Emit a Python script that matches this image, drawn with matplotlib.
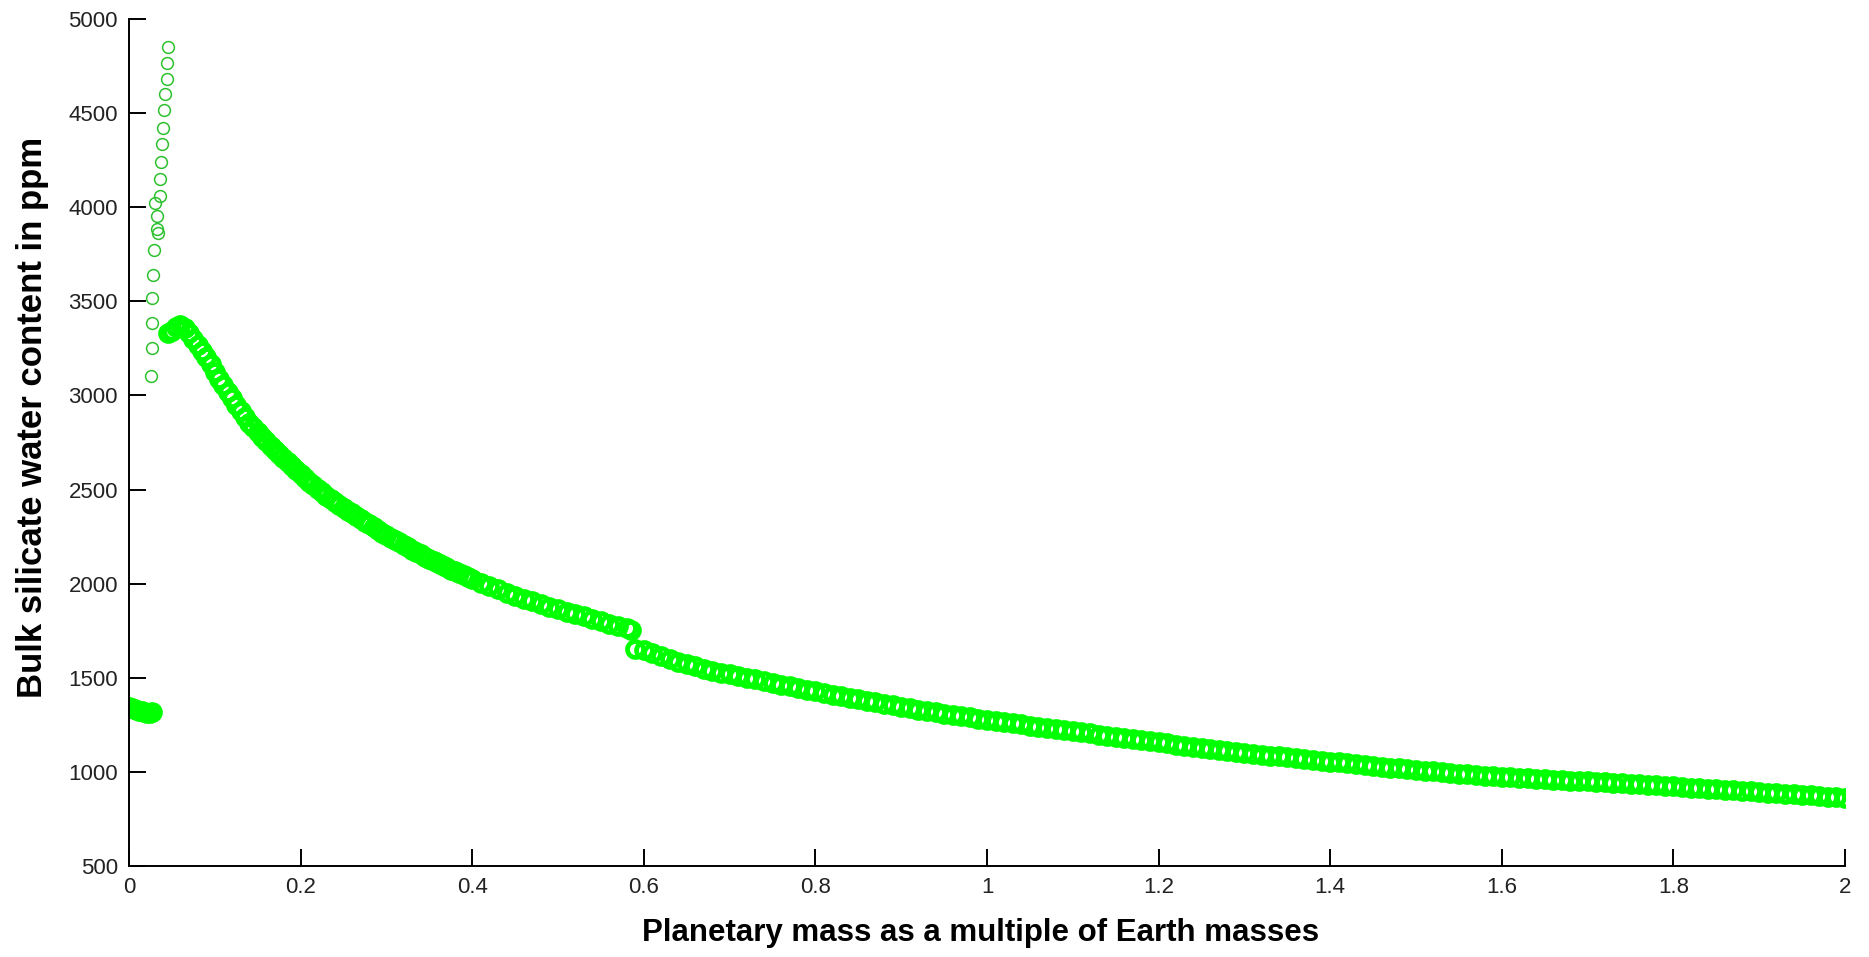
import matplotlib
matplotlib.use('Agg')
import matplotlib.pyplot as plt
import numpy as np

plt.rcParams['font.family'] = ['Liberation Sans', 'DejaVu Sans']

# small cluster at the very low masses
low_mass = [0.000, 0.003, 0.006, 0.009, 0.012, 0.015, 0.018, 0.021, 0.024, 0.027]
low_water = [1345, 1341, 1336, 1331, 1326, 1321, 1316, 1313, 1315, 1318]

# the isolated spike of open circles
spike_mass = [0.0256, 0.0272, 0.0272, 0.0272, 0.0283, 0.0291, 0.0303, 0.0323, 0.0342, 0.0323,
              0.0361, 0.0361, 0.0369, 0.0381, 0.0393, 0.0408, 0.0420, 0.0439, 0.0439, 0.0458]
spike_water = [3105, 3251, 3383, 3516, 3638, 3773, 4021, 3954, 3862, 3883,
               4060, 4148, 4239, 4334, 4422, 4517, 4600, 4680, 4765, 4853]

# main branch, before the step near 0.585
main1_mass = [0.045, 0.050, 0.055, 0.060, 0.065, 0.070, 0.075, 0.080, 0.085, 0.090,
              0.095, 0.100, 0.105, 0.110, 0.115, 0.120, 0.125, 0.130, 0.135, 0.140,
              0.145, 0.150, 0.155, 0.160, 0.165, 0.170, 0.175, 0.180, 0.185, 0.190,
              0.195, 0.200, 0.205, 0.210, 0.215, 0.220, 0.225, 0.230, 0.235, 0.240,
              0.245, 0.250, 0.255, 0.260, 0.265, 0.270, 0.275, 0.280, 0.285, 0.290,
              0.295, 0.300, 0.305, 0.310, 0.315, 0.320, 0.325, 0.330, 0.335, 0.340,
              0.345, 0.350, 0.355, 0.360, 0.365, 0.370, 0.375, 0.380, 0.385, 0.390,
              0.395, 0.40, 0.41, 0.42, 0.43, 0.44, 0.45, 0.46, 0.47, 0.48,
              0.49, 0.50, 0.51, 0.52, 0.53, 0.54, 0.55, 0.56, 0.57, 0.58, 0.585]
main1_water = [3330, 3342, 3366, 3372, 3356, 3330, 3300, 3268, 3237, 3205,
               3165, 3125, 3090, 3055, 3020, 2985, 2950, 2918, 2886, 2856,
               2830, 2805, 2780, 2756, 2734, 2712, 2690, 2668, 2646, 2625,
               2604, 2583, 2562, 2542, 2523, 2504, 2486, 2468, 2451, 2435,
               2419, 2404, 2388, 2373, 2359, 2345, 2330, 2315, 2300, 2285,
               2271, 2258, 2245, 2232, 2219, 2206, 2193, 2180, 2167, 2155,
               2142, 2130, 2119, 2108, 2097, 2086, 2075, 2065, 2055, 2045,
               2035, 2025, 2006, 1988, 1970, 1953, 1937, 1921, 1906, 1892,
               1878, 1865, 1852, 1839, 1826, 1813, 1800, 1788, 1776, 1764, 1755]

# main branch after the step
main2_mass = [0.59, 0.60, 0.61, 0.62, 0.63, 0.64, 0.65, 0.66, 0.67, 0.68,
              0.69, 0.70, 0.71, 0.72, 0.73, 0.74, 0.75, 0.76, 0.77, 0.78,
              0.79, 0.80, 0.81, 0.82, 0.83, 0.84, 0.85, 0.86, 0.87, 0.88,
              0.89, 0.90, 0.91, 0.92, 0.93, 0.94, 0.95, 0.96, 0.97, 0.98,
              0.99, 1.00, 1.01, 1.02, 1.03, 1.04, 1.05, 1.06, 1.07, 1.08,
              1.09, 1.10, 1.11, 1.12, 1.13, 1.14, 1.15, 1.16, 1.17, 1.18,
              1.19, 1.20, 1.21, 1.22, 1.23, 1.24, 1.25, 1.26, 1.27, 1.28,
              1.29, 1.30, 1.31, 1.32, 1.33, 1.34, 1.35, 1.36, 1.37, 1.38,
              1.39, 1.40, 1.41, 1.42, 1.43, 1.44, 1.45, 1.46, 1.47, 1.48,
              1.49, 1.50, 1.51, 1.52, 1.53, 1.54, 1.55, 1.56, 1.57, 1.58,
              1.59, 1.60, 1.61, 1.62, 1.63, 1.64, 1.65, 1.66, 1.67, 1.68,
              1.69, 1.70, 1.71, 1.72, 1.73, 1.74, 1.75, 1.76, 1.77, 1.78,
              1.79, 1.80, 1.81, 1.82, 1.83, 1.84, 1.85, 1.86, 1.87, 1.88,
              1.89, 1.90, 1.91, 1.92, 1.93, 1.94, 1.95, 1.96, 1.97, 1.98,
              1.99, 2.00]
main2_water = [1655, 1645, 1630, 1614, 1600, 1586, 1573, 1560, 1546, 1537,
               1528, 1518, 1509, 1500, 1491, 1482, 1473, 1464, 1455, 1446,
               1437, 1428, 1420, 1411, 1403, 1394, 1386, 1377, 1369, 1361,
               1353, 1345, 1338, 1331, 1324, 1317, 1310, 1303, 1296, 1289,
               1282, 1276, 1270, 1264, 1258, 1252, 1246, 1240, 1234, 1228,
               1222, 1216, 1210, 1204, 1198, 1192, 1186, 1180, 1174, 1168,
               1162, 1157, 1151, 1145, 1139, 1133, 1127, 1122, 1117, 1112,
               1107, 1102, 1097, 1092, 1087, 1082, 1077, 1073, 1068, 1064,
               1059, 1055, 1050, 1046, 1041, 1037, 1032, 1028, 1023, 1019,
               1015, 1011, 1007, 1003, 999, 995, 991, 988, 984, 980,
               977, 974, 971, 969, 966, 964, 961, 959, 956, 954,
               951, 949, 947, 944, 942, 940, 937, 935, 932, 929,
               926, 923, 920, 917, 914, 911, 908, 905, 902, 899,
               896, 893, 890, 887, 884, 881, 878, 875, 872, 869,
               866, 862]

x_ticks = [0, 0.2, 0.4, 0.6, 0.8, 1, 1.2, 1.4, 1.6, 1.8, 2]
x_ticklabels = ['0', '0.2', '0.4', '0.6', '0.8', '1', '1.2', '1.4', '1.6', '1.8', '2']
y_ticks = [500, 1000, 1500, 2000, 2500, 3000, 3500, 4000, 4500, 5000]

fig = plt.figure(figsize=(18.69, 9.57), dpi=100)
ax = fig.add_axes([129 / 1869, 1 - 866 / 957, (1845 - 129) / 1869, (866 - 19) / 957])

# dense overlapping circles -> solid looking band
band = dict(linestyle='none', marker='o', markersize=11.5, markerfacecolor='none',
            markeredgecolor='#00ff00', markeredgewidth=3.4)
ax.plot(low_mass, low_water, **band)
ax.plot(main1_mass, main1_water, **band)
ax.plot(main2_mass, main2_water, **band)
ax.plot(spike_mass, spike_water, linestyle='none', marker='o', markersize=8.5,
        markerfacecolor='none', markeredgecolor='#2ec02e', markeredgewidth=1.1)

ax.set_xlim(0, 2)
ax.set_ylim(500, 5000)
ax.set_xticks(x_ticks)
ax.set_xticklabels(x_ticklabels)
ax.set_yticks(y_ticks)

for s in ['top', 'right']:
    ax.spines[s].set_visible(False)
for s in ['left', 'bottom']:
    ax.spines[s].set_linewidth(1.4)
ax.tick_params(direction='in', length=12, width=1.4, labelsize=16, pad=8, colors='black',
               labelcolor='#222222')

ax.set_xlabel('Planetary mass as a multiple of Earth masses', fontsize=22.5, fontweight='bold')
ax.set_ylabel('Bulk silicate water content in ppm', fontsize=25, fontweight='bold')
ax.xaxis.set_label_coords(0.496, -0.079)
ax.yaxis.set_label_coords(-0.0565, 0.53)
ax.xaxis.label.set_va('center')
ax.yaxis.label.set_va('center')

plt.savefig('out.png', dpi=100)
